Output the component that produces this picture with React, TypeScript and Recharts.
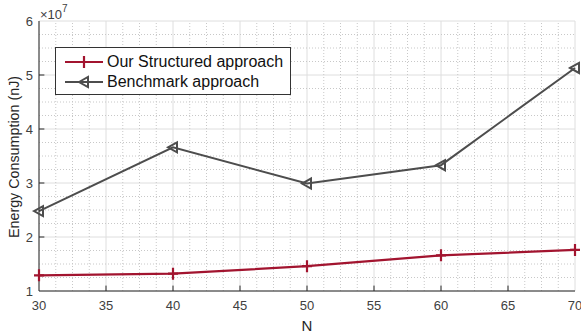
import React from 'react'
import { LineChart, Line, XAxis, YAxis, CartesianGrid, ReferenceLine, Label } from 'recharts'

const nValues = [30, 40, 50, 60, 70]
// values in units of 1e7 nJ
const structured = [1.29, 1.32, 1.46, 1.66, 1.76]
const benchmark = [2.48, 3.66, 2.99, 3.33, 5.13]

const xTicks = [30, 35, 40, 45, 50, 55, 60, 65, 70]
const yTicks = [1, 2, 3, 4, 5, 6]
const minorX = [
  31.25, 32.5, 33.75, 36.25, 37.5, 38.75, 41.25, 42.5, 43.75, 46.25, 47.5, 48.75,
  51.25, 52.5, 53.75, 56.25, 57.5, 58.75, 61.25, 62.5, 63.75, 66.25, 67.5, 68.75,
]
const minorY = [1.25, 1.5, 1.75, 2.25, 2.5, 2.75, 3.25, 3.5, 3.75, 4.25, 4.5, 4.75, 5.25, 5.5, 5.75]

const RED = '#A2142F'
const GRAY = '#4D4D4D'
const FONT = '"Liberation Sans", Arial, sans-serif'

const data = nValues.map((n, i) => ({ n, structured: structured[i], benchmark: benchmark[i] }))

const PlusDot = ({ cx, cy }: any) => (
  <path d={`M${cx - 5},${cy}H${cx + 5}M${cx},${cy - 6}V${cy + 6}`} stroke={RED} strokeWidth={2.2} fill="none" />
)

const TriDot = ({ cx, cy }: any) => (
  <path d={`M${cx - 5},${cy}L${cx + 4},${cy - 5}L${cx + 4},${cy + 5}Z`} stroke={GRAY} strokeWidth={2} fill="none" />
)

const LegendBox = () => (
  <div
    style={{
      position: 'absolute',
      left: 55,
      top: 47,
      width: 236,
      height: 48,
      border: '1px solid #333',
      background: '#fff',
      fontFamily: FONT,
      fontSize: 16,
      color: '#111',
      boxSizing: 'border-box',
    }}
  >
    <svg width={50} height={46} style={{ position: 'absolute', left: 0, top: 0 }}>
      <line x1={9} x2={47} y1={14} y2={14} stroke={RED} strokeWidth={2.2} />
      <PlusDot cx={28} cy={14} />
      <line x1={9} x2={47} y1={34} y2={34} stroke={GRAY} strokeWidth={2} />
      <TriDot cx={28} cy={34} />
    </svg>
    <div style={{ position: 'absolute', left: 51, top: 5, lineHeight: '18px', whiteSpace: 'nowrap' }}>
      Our Structured approach
    </div>
    <div style={{ position: 'absolute', left: 51, top: 25, lineHeight: '18px', whiteSpace: 'nowrap' }}>
      Benchmark approach
    </div>
  </div>
)

const YTitle = () => (
  <text
    x={14}
    y={157}
    transform="rotate(-90 14 157)"
    textAnchor="middle"
    dominantBaseline="central"
    fill="#262626"
    fontSize={14.3}
    fontFamily={FONT}
  >
    Energy Consumption (nJ)
  </text>
)

const XTitle = () => (
  <text x={307} y={331} textAnchor="middle" fill="#262626" fontSize={15} fontFamily={FONT}>
    N
  </text>
)

export default function App() {
  return (
    <div style={{ position: 'absolute', left: 0, top: 0, width: 581, height: 335, background: '#fff' }}>
      <LineChart width={581} height={335} data={data} margin={{ top: 21, right: 6, bottom: 0, left: 0 }}>
        {minorX.map((v) => (
          <ReferenceLine key={`mx${v}`} x={v} stroke="#c8c8c8" strokeDasharray="1 2" strokeWidth={1} />
        ))}
        {minorY.map((v) => (
          <ReferenceLine key={`my${v}`} y={v} stroke="#c8c8c8" strokeDasharray="1 2" strokeWidth={1} />
        ))}
        <CartesianGrid stroke="#dedede" strokeWidth={1} />
        <XAxis
          dataKey="n"
          type="number"
          domain={[30, 70]}
          ticks={xTicks}
          interval={0}
          height={44}
          stroke="#262626"
          tickLine={false}
          tickMargin={4}
          tick={{ fill: '#404040', fontSize: 13, fontFamily: FONT }}
        >
          <Label content={<XTitle />} />
        </XAxis>
        <YAxis
          type="number"
          domain={[1, 6]}
          ticks={yTicks}
          interval={0}
          width={39}
          stroke="#262626"
          tickLine={false}
          tickMargin={0}
          tick={{ fill: '#404040', fontSize: 13, fontFamily: FONT }}
        >
          <Label content={<YTitle />} />
        </YAxis>
        {xTicks.slice(1, -1).map((v) => (
          <ReferenceLine key={`tx${v}`} segment={[{ x: v, y: 1 }, { x: v, y: 1.1 }]} stroke="#262626" />
        ))}
        {yTicks.slice(1, -1).map((v) => (
          <ReferenceLine key={`ty${v}`} segment={[{ x: 30, y: v }, { x: 30.4, y: v }]} stroke="#262626" />
        ))}
        <Line
          dataKey="structured"
          name="Our Structured approach"
          stroke={RED}
          strokeWidth={2.2}
          dot={<PlusDot />}
          isAnimationActive={false}
        />
        <Line
          dataKey="benchmark"
          name="Benchmark approach"
          stroke={GRAY}
          strokeWidth={2}
          dot={<TriDot />}
          isAnimationActive={false}
        />
      </LineChart>
      <LegendBox />
      <div style={{ position: 'absolute', left: 40, top: 5, fontFamily: FONT, fontSize: 13, color: '#404040' }}>
        ×10<sup style={{ fontSize: 10, position: 'relative', top: -2 }}>7</sup>
      </div>
    </div>
  )
}
